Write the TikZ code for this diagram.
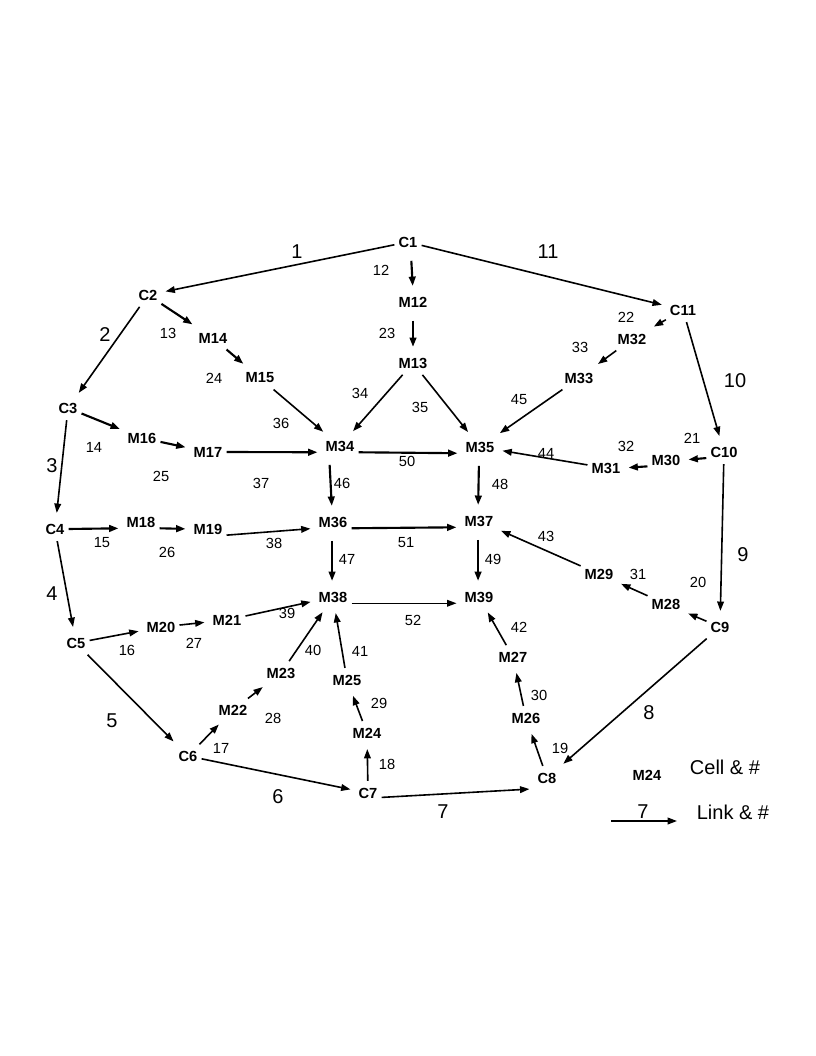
\documentclass[tikz,border=0pt]{standalone}
\usepackage{fontspec}
\setmainfont{Liberation Sans}
\usetikzlibrary{arrows.meta}
\begin{document}
\begin{tikzpicture}[x=0.75pt,y=-0.75pt,
  cell/.style={font=\fontsize{11}{13}\selectfont\bfseries, inner xsep=2pt, inner ysep=4pt},
  num/.style={font=\fontsize{11}{13}\selectfont, inner sep=0pt},
  lnk/.style={font=\fontsize{15}{18}\selectfont, inner sep=0pt},
  arr/.style={-{Triangle[length=7pt,width=5pt]}, line width=1.2pt, shorten >=4pt, shorten <=1pt},
  tarr/.style={arr, line width=1.6pt},
  narr/.style={arr, line width=0.9pt},
  varr/.style={tarr, shorten <=6pt}]
\useasboundingbox (0,0) rectangle (816,1056);
% cells
\node[cell] (C1) at (408,242) {C1};
\node[cell] (C2) at (148,295) {C2};
\node[cell] (C3) at (68,408) {C3};
\node[cell] (C4) at (55,529) {C4};
\node[cell] (C5) at (76,643) {C5};
\node[cell] (C6) at (188,756) {C6};
\node[cell] (C7) at (368,793) {C7};
\node[cell] (C8) at (547,778) {C8};
\node[cell] (C9) at (720,627) {C9};
\node[cell] (C10) at (724,452) {C10};
\node[cell] (C11) at (683,310) {C11};
\node[cell] (M12) at (413,302) {M12};
\node[cell] (M13) at (413,363) {M13};
\node[cell] (M14) at (213,338) {M14};
\node[cell] (M15) at (260,378) {M15};
\node[cell] (M16) at (142,438) {M16};
\node[cell] (M17) at (208,452) {M17};
\node[cell] (M18) at (141,522) {M18};
\node[cell] (M19) at (208,529) {M19};
\node[cell] (M20) at (161,627) {M20};
\node[cell] (M21) at (227,620) {M21};
\node[cell] (M22) at (233,710) {M22};
\node[cell] (M23) at (281,673) {M23};
\node[cell] (M24) at (367,733) {M24};
\node[cell] (M25) at (347,680) {M25};
\node[cell] (M26) at (526,718) {M26};
\node[cell] (M27) at (513,657) {M27};
\node[cell] (M28) at (666,604) {M28};
\node[cell] (M29) at (599,574) {M29};
\node[cell] (M30) at (666,460) {M30};
\node[cell] (M31) at (606,468) {M31};
\node[cell] (M32) at (632,339) {M32};
\node[cell] (M33) at (579,378) {M33};
\node[cell] (M34) at (340,446) {M34};
\node[cell] (M35) at (480,447) {M35};
\node[cell] (M36) at (333,522) {M36};
\node[cell] (M37) at (479,521) {M37};
\node[cell] (M38) at (333,597) {M38};
\node[cell] (M39) at (479,597) {M39};
% links between C cells
\draw[arr] (C1) -- (C2);
\draw[arr] (C1) -- (C11);
\draw[arr] (C11) -- (C10);
\draw[arr] (C10) -- (C9);
\draw[arr] (C9) -- (C8);
\draw[arr] (C7.-20) -- (C8.south west);
\draw[arr] (C6) -- (C7);
\draw[arr] (C5) -- (C6);
\draw[arr] (C4) -- (C5);
\draw[arr] (C3) -- (C4);
\draw[arr] (C2) -- (C3);
% inner links
\draw[varr] (C1.-75) -- (M12.north);
\draw[varr] (M12) -- (M13);
\draw[arr] (M13) -- (M34);
\draw[arr] (M13) -- (M35);
\draw[tarr] (C2) -- (M14);
\draw[tarr] (M14) -- (M15);
\draw[arr] (M15) -- (M34);
\draw[tarr] (C3) -- (M16);
\draw[tarr] (M16) -- (M17);
\draw[tarr] (M17.east) -- (M34.200);
\draw[tarr] (M34.-20) -- (M35.200);
\draw[varr] (M34.-135) -- (M36.95);
\draw[tarr] (C4.east) -- (M18.200);
\draw[tarr] (M18.-20) -- (M19.west);
\draw[arr] (M19.-20) -- (M36.200);
\draw[tarr] (M36.-20) -- (M37.200);
\draw[varr] (M36.-95) -- (M38.95);
\draw[varr] (M35.-95) -- (M37.95);
\draw[varr] (M37.-95) -- (M39.95);
\draw[narr] (M38.-20) -- (M39.200);
\draw[arr] (C5) -- (M20);
\draw[arr] (M20) -- (M21);
\draw[arr] (M21) -- (M38);
\draw[arr] (C6) -- (M22);
\draw[arr] (M22) -- (M23);
\draw[arr] (M23) -- (M38);
\draw[arr] (C7) -- (M24);
\draw[arr] (M24) -- (M25);
\draw[arr] (M25) -- (M38);
\draw[arr] (C8) -- (M26);
\draw[arr] (M26) -- (M27);
\draw[arr] (M27) -- (M39);
\draw[arr] (C9) -- (M28);
\draw[arr] (M28) -- (M29);
\draw[arr] (M29) -- (M37);
\draw[tarr] (C10.200) -- (M30.east);
\draw[tarr] (M30.200) -- (M31.east);
\draw[arr] (M31) -- (M35);
\draw[arr] (C11) -- (M32);
\draw[arr] (M32) -- (M33);
\draw[arr] (M33) -- (M35);
% link numbers (large)
\node[lnk] (k1) at (297,252) {1};
\node[lnk] (k2) at (105,335) {2};
\node[lnk] (k3) at (52,466) {3};
\node[lnk] (k4) at (52,594) {4};
\node[lnk] (k5) at (112,721) {5};
\node[lnk] (k6) at (278,797) {6};
\node[lnk] (k7) at (443,812) {7};
\node[lnk] (k8) at (649,713) {8};
\node[lnk] (k9) at (743,555) {9};
\node[lnk] (k10) at (735,381) {10};
\node[lnk] (k11) at (548,252) {11};
% link numbers (small)
\node[num] (n12) at (381,270) {12};
\node[num] (n13) at (168,333) {13};
\node[num] (n14) at (94,447) {14};
\node[num] (n15) at (102,543) {15};
\node[num] (n16) at (127,650) {16};
\node[num] (n17) at (221,748) {17};
\node[num] (n18) at (387,764) {18};
\node[num] (n19) at (560,748) {19};
\node[num] (n20) at (698,582) {20};
\node[num] (n21) at (692,438) {21};
\node[num] (n22) at (626,317) {22};
\node[num] (n23) at (387,333) {23};
\node[num] (n24) at (214,378) {24};
\node[num] (n25) at (161,476) {25};
\node[num] (n26) at (167,552) {26};
\node[num] (n27) at (194,643) {27};
\node[num] (n28) at (273,718) {28};
\node[num] (n29) at (379,703) {29};
\node[num] (n30) at (539,695) {30};
\node[num] (n31) at (638,574) {31};
\node[num] (n32) at (626,446) {32};
\node[num] (n33) at (580,347) {33};
\node[num] (n34) at (360,393) {34};
\node[num] (n35) at (420,407) {35};
\node[num] (n36) at (281,423) {36};
\node[num] (n37) at (261,483) {37};
\node[num] (n38) at (274,543) {38};
\node[num] (n39) at (287,613) {39};
\node[num] (n40) at (313,650) {40};
\node[num] (n41) at (360,651) {41};
\node[num] (n42) at (519,627) {42};
\node[num] (n43) at (546,536) {43};
\node[num] (n44) at (546,453) {44};
\node[num] (n45) at (519,400) {45};
\node[num] (n46) at (342,483) {46};
\node[num] (n47) at (347,559) {47};
\node[num] (n48) at (500,484) {48};
\node[num] (n49) at (493,559) {49};
\node[num] (n50) at (407,461) {50};
\node[num] (n51) at (406,543) {51};
\node[num] (n52) at (413,620) {52};
% legend
\node[cell] (lgcell) at (647,775) {M24};
\node[lnk] (lgcelltxt) at (725,767) {Cell \& \#};
\coordinate (lgA) at (611,821);
\coordinate (lgB) at (677,821);
\draw[-{Triangle[length=7pt,width=5pt]}, line width=1.2pt] (lgA) -- (lgB);
\node[lnk] (lgnum) at (643,812) {7};
\node[lnk] (lglinktxt) at (733,812) {Link \& \#};
\end{tikzpicture}
\end{document}
